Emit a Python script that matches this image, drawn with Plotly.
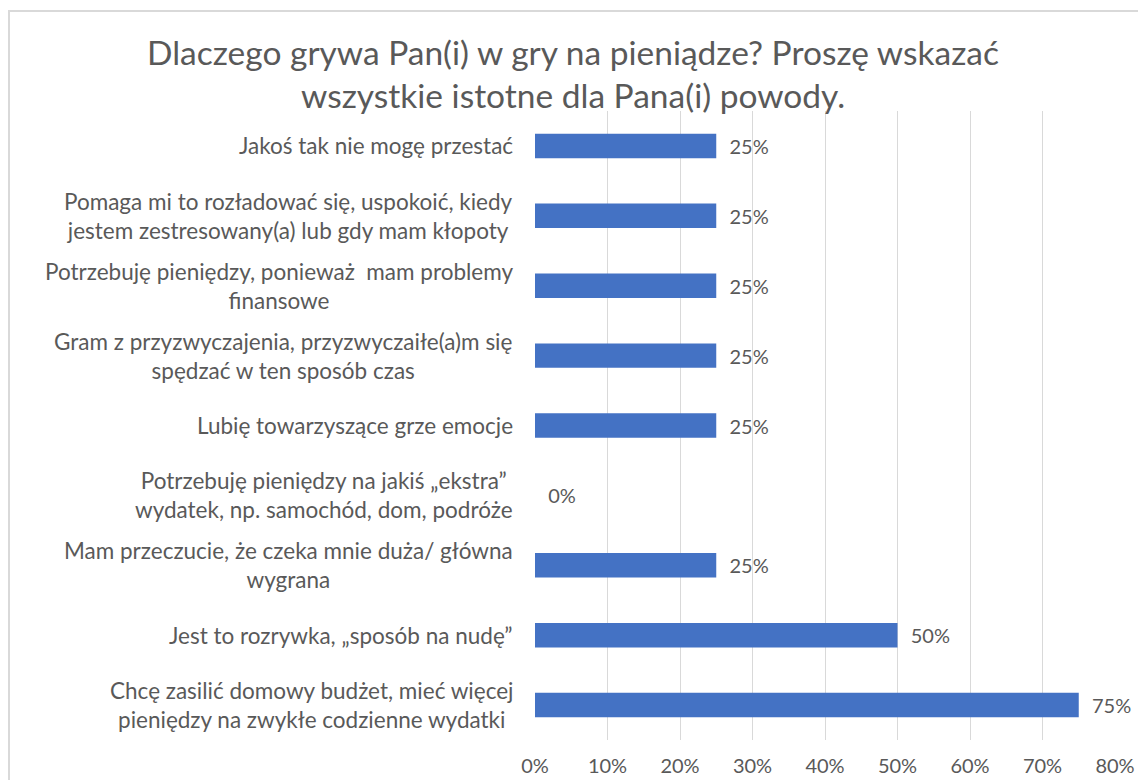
import plotly.graph_objects as go

categories = [
    "Jakoś tak nie mogę przestać",
    "Pomaga mi to rozładować się, uspokoić, kiedy<br>jestem zestresowany(a) lub gdy mam kłopoty",
    "Potrzebuję pieniędzy, ponieważ  mam problemy<br>finansowe",
    "Gram z przyzwyczajenia, przyzwyczaiłe(a)m się<br>spędzać w ten sposób czas",
    "Lubię towarzyszące grze emocje",
    "Potrzebuję pieniędzy na jakiś „ekstra”<br>wydatek, np. samochód, dom, podróże",
    "Mam przeczucie, że czeka mnie duża/ główna<br>wygrana",
    "Jest to rozrywka, „sposób na nudę”",
    "Chcę zasilić domowy budżet, mieć więcej<br>pieniędzy na zwykłe codzienne wydatki",
]
values = [0.25, 0.25, 0.25, 0.25, 0.25, 0.0, 0.25, 0.50, 0.75]
tick_vals = [0, 0.1, 0.2, 0.3, 0.4, 0.5, 0.6, 0.7, 0.8]
tick_text = ["0%", "10%", "20%", "30%", "40%", "50%", "60%", "70%", "80%"]
title = "Dlaczego grywa Pan(i) w gry na pieniądze? Proszę wskazać<br>wszystkie istotne dla Pana(i) powody."

FONT = "Lato"
GREY = "#595959"
NB = "\u00a0"

W, H = 1138, 772          # page adds an 8px body margin on top/left
L, R, T, B = 527, 31, 103, 40
PW = W - L - R
PH = H - T - B

fig = go.Figure(go.Bar(
    x=values, y=list(range(len(categories))), orientation="h",
    marker_color="#4472C4", width=0.35,
    text=[f"{NB}{NB}{round(v*100)}%" for v in values], textposition="outside",
    textfont=dict(family=FONT, size=20, color=GREY), cliponaxis=False,
))

for i, c in enumerate(categories):
    fig.add_annotation(x=0, y=i, xref="paper", yref="y", text=c, showarrow=False,
                       xanchor="right", yanchor="middle", align="center", xshift=-20,
                       font=dict(family=FONT, size=22.5, color=GREY))

# chart frame: left edge at page x~8, top at page y~11
fig.add_shape(type="rect", xref="paper", yref="paper",
              x0=(1 - L) / PW, x1=(W + 20 - L) / PW,
              y0=-0.3, y1=(H - B - 3) / PH,
              line=dict(color="#d9d9d9", width=2), fillcolor="rgba(0,0,0,0)", layer="below")

fig.update_layout(
    template="none",
    width=W, height=H,
    margin=dict(l=L, r=R, t=T, b=B, autoexpand=False),
    paper_bgcolor="white", plot_bgcolor="white",
    showlegend=False,
    title=dict(text=title, x=(573 - 8) / W, xref="container", xanchor="center",
               y=1 - 56.5 / H, yanchor="middle",
               font=dict(family=FONT, size=33.5, color=GREY)),
    xaxis=dict(range=[0, 0.8], tickvals=tick_vals, ticktext=tick_text, showgrid=True,
               gridcolor="#d9d9d9", gridwidth=1, zeroline=False, showline=False, automargin=False,
               tickfont=dict(family=FONT, size=20, color=GREY), ticks="", ticklabelstandoff=12),
    yaxis=dict(range=[8.5, -0.5], showticklabels=False, showgrid=False, zeroline=False,
               showline=False, automargin=False),
)

fig.write_html("out.html")
